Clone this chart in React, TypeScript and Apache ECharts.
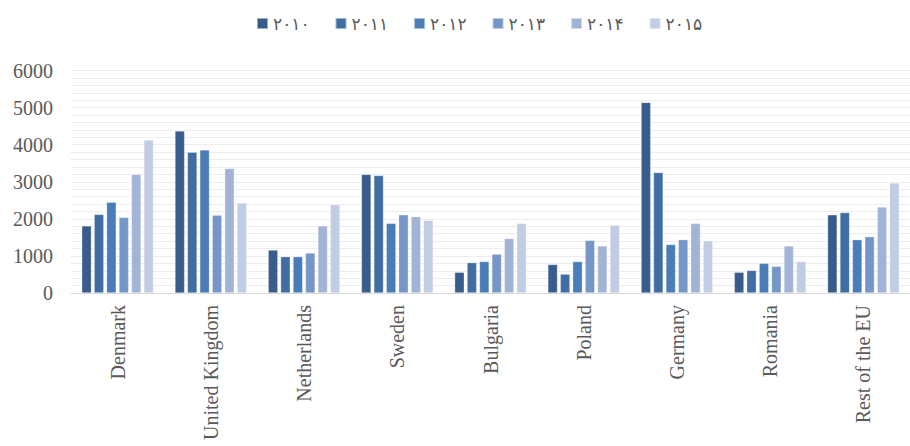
import React, { useEffect, useRef } from "react";
import * as echarts from "echarts";

const categories = [
  "Denmark",
  "United Kingdom",
  "Netherlands",
  "Sweden",
  "Bulgaria",
  "Poland",
  "Germany",
  "Romania",
  "Rest of the EU",
];

const seriesNames = ["۲۰۱۰", "۲۰۱۱", "۲۰۱۲", "۲۰۱۳", "۲۰۱۴", "۲۰۱۵"];

const values2010 = [1810, 4370, 1160, 3200, 560, 770, 5140, 560, 2110];
const values2011 = [2120, 3800, 980, 3170, 820, 510, 3250, 610, 2170];
const values2012 = [2450, 3860, 980, 1880, 850, 850, 1310, 800, 1440];
const values2013 = [2040, 2100, 1080, 2110, 1050, 1420, 1440, 720, 1520];
const values2014 = [3200, 3360, 1810, 2060, 1470, 1270, 1880, 1270, 2320];
const values2015 = [4130, 2430, 2380, 1960, 1880, 1830, 1410, 850, 2970];

const allValues = [values2010, values2011, values2012, values2013, values2014, values2015];
const colors = ["#385D8C", "#416EA2", "#4A7DB7", "#7596C7", "#A2B4D6", "#C1CDE3"];

export default function App() {
  const ref = useRef<HTMLDivElement>(null);
  useEffect(() => {
    if (!ref.current) return;
    const chart = echarts.init(ref.current, undefined, { renderer: "svg" });
    chart.setOption({
      animation: false,
      color: colors,
      legend: {
        top: 10,
        left: 251,
        icon: "rect",
        itemWidth: 11,
        itemHeight: 11,
        itemGap: 25,
        textStyle: {
          fontFamily: "DejaVu Sans",
          fontSize: 17,
          color: "#595959",
        },
        data: seriesNames,
      },
      grid: { left: 71, right: 0, top: 70.5, bottom: 153, containLabel: false },
      xAxis: {
        type: "category",
        data: categories,
        axisLine: { lineStyle: { color: "#D9D9D9", width: 1 } },
        axisTick: { show: false },
        axisLabel: {
          rotate: 90,
          interval: 0,
          margin: 12,
          fontFamily: "Liberation Serif",
          fontSize: 20,
          color: "#595959",
        },
      },
      yAxis: {
        type: "value",
        min: 0,
        max: 6000,
        interval: 200,
        axisLine: { show: false },
        axisTick: { show: false },
        splitLine: { lineStyle: { color: "#EDEDED", width: 1.2 } },
        axisLabel: {
          margin: 18,
          fontFamily: "Liberation Serif",
          fontSize: 20,
          color: "#595959",
          formatter: (v: number) => (v % 1000 === 0 ? String(v) : ""),
        },
      },
      series: seriesNames.map((name, i) => ({
        name,
        type: "bar",
        data: allValues[i],
        barGap: "28%",
        barCategoryGap: "23%",
        itemStyle: { borderColor: "rgba(255,255,255,0.5)", borderWidth: 0.6 },
      })),
    });
    return () => chart.dispose();
  }, []);
  return (
    <div
      ref={ref}
      style={{ position: "absolute", left: 0, top: 0, width: 910, height: 446 }}
    />
  );
}
